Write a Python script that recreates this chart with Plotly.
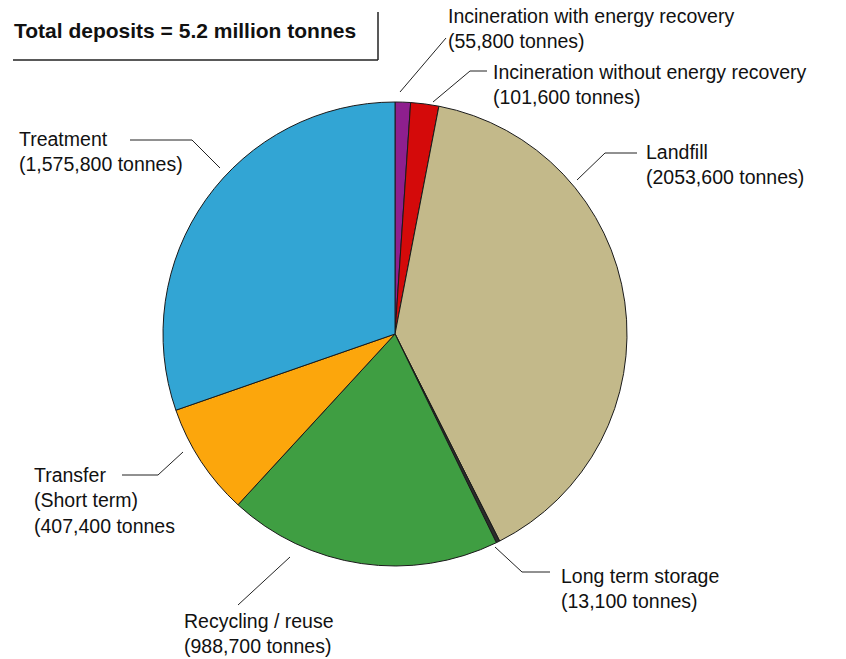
import plotly.graph_objects as go

# Waste deposits by fate, listed clockwise from 12 o'clock
categories = [
    "Incineration with energy recovery",
    "Incineration without energy recovery",
    "Landfill",
    "Long term storage",
    "Recycling / reuse",
    "Transfer (Short term)",
    "Treatment",
]
tonnes = [55800, 101600, 2053600, 13100, 988700, 407400, 1575800]
colors = ["#8e1f8e", "#d40a0a", "#c3b98a", "#2b2b2b", "#3f9e42", "#fca60c", "#32a5d4"]

# Label text shown beside each slice
label_text = [
    "Incineration with energy recovery<br>(55,800 tonnes)",
    "Incineration without energy recovery<br>(101,600 tonnes)",
    "Landfill<br>(2053,600 tonnes)",
    "Long term storage<br>(13,100 tonnes)",
    "Recycling / reuse<br>(988,700 tonnes)",
    "Transfer<br>(Short term)<br>(407,400 tonnes",
    "Treatment<br>(1,575,800 tonnes)",
]

W, H = 846, 659
FONT = "Liberation Sans, Arial, sans-serif"


def px(x, y):
    return x / W, 1 - y / H


fig = go.Figure()
fig.add_trace(go.Pie(
    labels=categories,
    values=tonnes,
    sort=False,
    direction="clockwise",
    rotation=0,
    marker=dict(colors=colors, line=dict(color="#1a1a1a", width=1)),
    textinfo="none",
    hoverinfo="label+value",
    showlegend=False,
    domain=dict(x=[163 / W, 627 / W], y=[1 - 568 / H, 1 - 100 / H]),
))

# Label anchors (left edge, vertical centre of block) and leader-line paths
label_pos = [(446, 29), (491, 85), (644, 165), (559, 588), (182, 633), (32, 500), (17, 152)]
leaders = [
    [(400, 92), (446, 38)],
    [(433, 102), (470, 71), (487, 71)],
    [(577, 180), (605, 153), (637, 153)],
    [(495, 547), (522, 572), (550, 572)],
    [(290, 557), (238, 605)],
    [(122, 475), (158, 475), (183, 452)],
    [(130, 140), (192, 140), (220, 168)],
]

annotations = []
for (lx, ly), txt in zip(label_pos, label_text):
    x, y = px(lx, ly)
    annotations.append(dict(
        x=x, y=y, xref="paper", yref="paper", text=txt, showarrow=False,
        xanchor="left", yanchor="middle", align="left",
        font=dict(family=FONT, size=19.5, color="#111"),
    ))

# Title box
tx, ty = px(12, 31)
annotations.append(dict(
    x=tx, y=ty, xref="paper", yref="paper",
    text="<b>Total deposits = 5.2 million tonnes</b>", showarrow=False,
    xanchor="left", yanchor="middle",
    font=dict(family=FONT, size=21, color="#111"),
))

shapes = []
for pts in leaders:
    path = "M " + " L ".join(f"{px(x, y)[0]},{px(x, y)[1]}" for x, y in pts)
    shapes.append(dict(type="path", xref="paper", yref="paper", path=path,
                       line=dict(color="#222", width=1)))

# Box edges (right and bottom)
for pts in [[(378, 12), (378, 60)], [(13, 60), (378, 60)]]:
    path = "M " + " L ".join(f"{px(x, y)[0]},{px(x, y)[1]}" for x, y in pts)
    shapes.append(dict(type="path", xref="paper", yref="paper", path=path,
                       line=dict(color="#222", width=1.5)))

fig.update_layout(
    width=W, height=H,
    margin=dict(l=0, r=0, t=0, b=0),
    paper_bgcolor="white", plot_bgcolor="white",
    annotations=annotations, shapes=shapes,
)

fig.write_html("out.html")
